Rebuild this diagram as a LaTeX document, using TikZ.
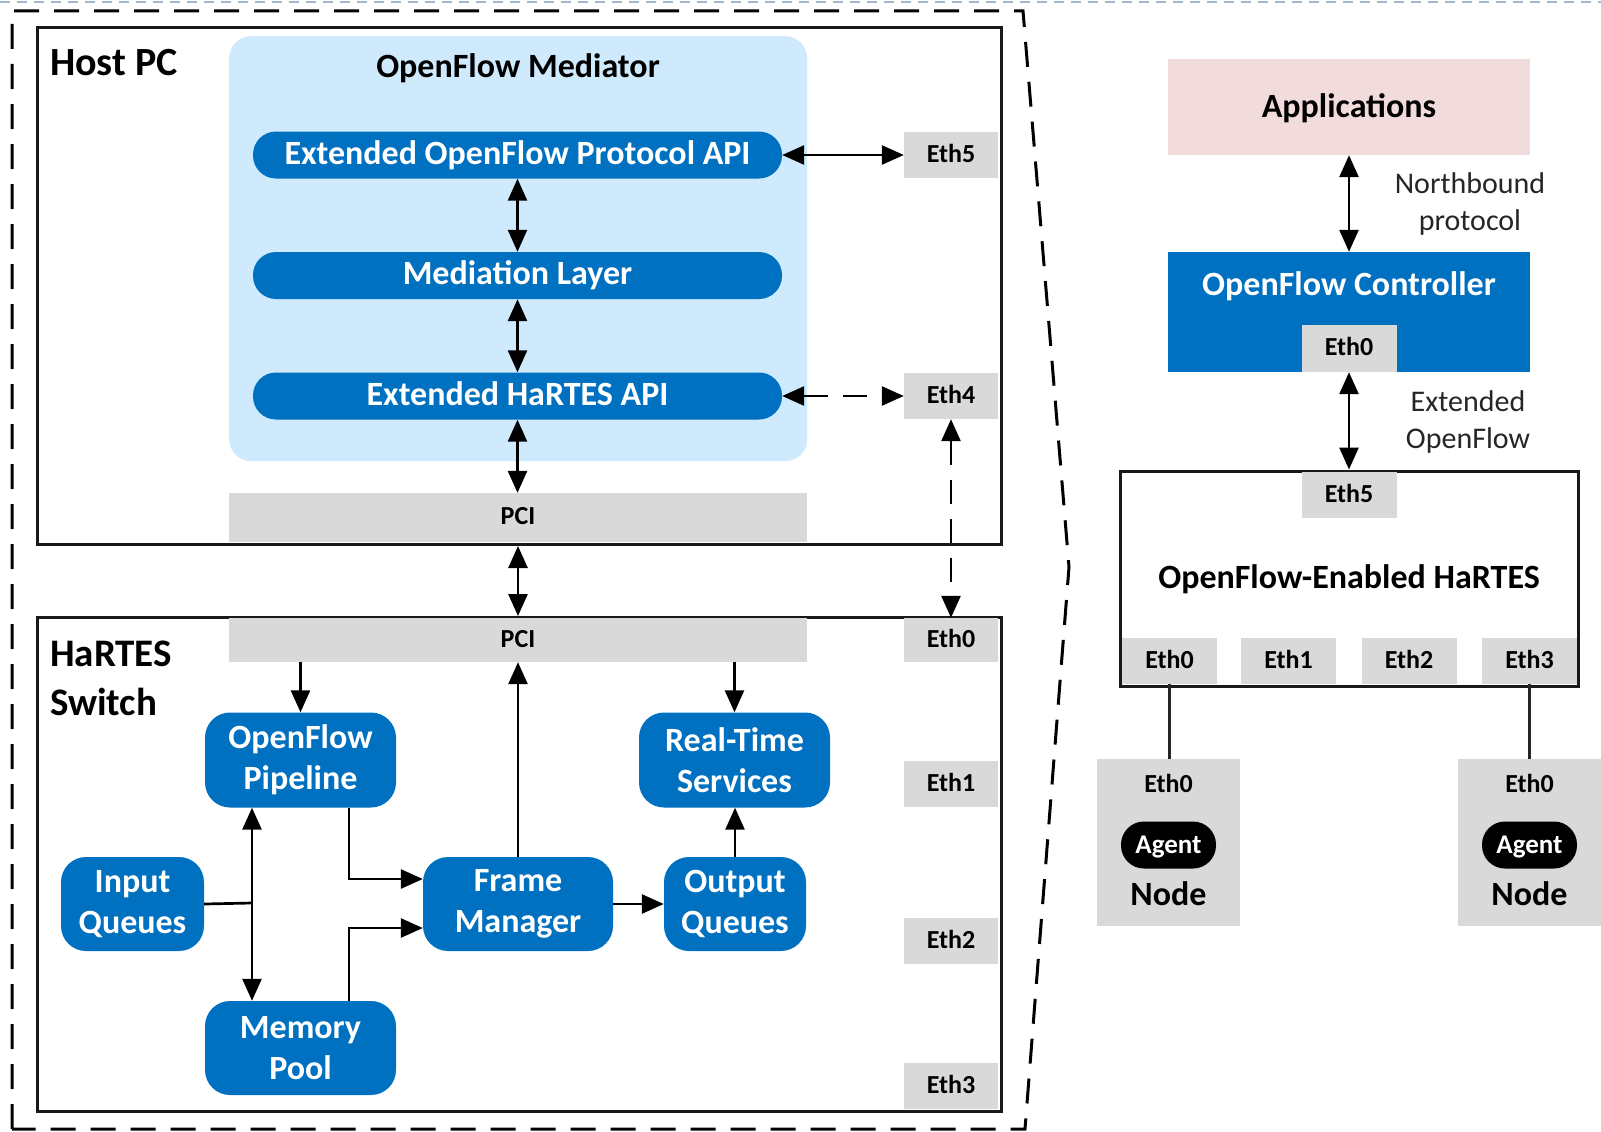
\documentclass[tikz,border=0pt]{standalone}
\usepackage{fontspec}
\setmainfont{Carlito}
\usetikzlibrary{arrows.meta}

\definecolor{ofblue}{RGB}{0,112,192}
\definecolor{medblue}{RGB}{207,234,252}
\definecolor{portgrey}{RGB}{217,217,217}
\definecolor{apppink}{RGB}{242,220,219}
\definecolor{guideblue}{RGB}{160,184,210}

\tikzset{
  hostframe/.style={draw=black!90, line width=3pt, fill=white, inner sep=0pt},
  pill/.style={fill=ofblue, rounded corners=23pt, text=white,
    font=\fontsize{34}{40}\selectfont\bfseries, text height=26pt, text depth=8pt,
    minimum width=529pt, minimum height=47pt, inner sep=0pt},
  block/.style={fill=ofblue, rounded corners=25pt, text=white, align=center,
    font=\fontsize{34}{41}\selectfont\bfseries, inner sep=0pt},
  port/.style={fill=portgrey, inner sep=0pt, minimum width=94pt, minimum height=46pt,
    font=\fontsize{26}{30}\selectfont\bfseries, text height=20pt, text depth=6pt},
  heading/.style={font=\fontsize{34}{40}\selectfont\bfseries, text height=26pt, text depth=5pt, inner sep=0pt},
  agent/.style={fill=black, text=white, rounded corners=23pt, minimum width=95pt, minimum height=47pt,
    inner sep=0pt, font=\fontsize{27}{32}\selectfont\bfseries, text height=21pt, text depth=5pt},
  caption/.style={font=\fontsize{30}{37}\selectfont, align=center, text=black!85, inner sep=0pt},
  link/.style={line width=2.7pt, -{Triangle[length=22pt,width=19pt]}},
  biline/.style={line width=2.7pt, {Triangle[length=22pt,width=19pt]}-{Triangle[length=22pt,width=19pt]}},
  dashlink/.style={biline, dash pattern=on 24pt off 15pt},
  wire/.style={line width=2.7pt, draw=black!85},
}

\begin{document}
\begin{tikzpicture}[x=1pt,y=-1pt]
\useasboundingbox (0,0) rectangle (1601,1132);
\fill[white] (0,0) rectangle (1601,1132);

% thin guide line along the top edge
\draw[guideblue, line width=1.5pt, dash pattern=on 10pt off 7pt] (0,2) -- (1601,2);

% dashed enclosure of the HaRTES internals
\draw[line width=3pt, dash pattern=on 25pt off 15pt]
  (12,1129) -- (12,11) -- (1023,11) -- (1069,567) -- (1025,1129) -- cycle;

% ---------------- Host PC ----------------
\node[hostframe, anchor=north west, minimum width=964pt, minimum height=517pt] (host) at (36,26) {};
\node[anchor=base west, font=\fontsize{40}{46}\selectfont\bfseries, inner sep=0pt] (hostlabel) at (50,76) {Host PC};

\node[fill=medblue, rounded corners=22pt, anchor=north west, minimum width=578pt,
      minimum height=425pt, inner sep=0pt] (med) at (229,36) {};
\node[heading] (medtitle) at (518,67) {OpenFlow Mediator};

\node[pill] (extof) at (517.5,155) {Extended OpenFlow Protocol API};
\node[pill] (medlayer) at (517.5,275.5) {Mediation Layer};
\node[pill] (exthartes) at (517.5,396) {Extended HaRTES API};

\node[port, minimum width=578pt, minimum height=48.5pt] (hpci) at (518,517.3) {PCI};
\node[port] (heth5) at (951,155) {Eth5};
\node[port] (heth4) at (951,396) {Eth4};

\draw[biline] (extof.east) -- (heth5.west);
\draw[biline] (extof.south) -- (medlayer.north);
\draw[biline] (medlayer.south) -- (exthartes.north);
\draw[biline] (exthartes.south) -- (exthartes.south |- hpci.north);
\draw[dashlink] (exthartes.east) -- (heth4.west);

% ---------------- HaRTES Switch ----------------
\node[hostframe, anchor=north west, minimum width=964pt, minimum height=494pt] (switch) at (36,616) {};
\node[anchor=base west, font=\fontsize{39}{46}\selectfont\bfseries, inner sep=0pt] (swlabelA) at (50,666) {HaRTES};
\node[anchor=base west, font=\fontsize{39}{46}\selectfont\bfseries, inner sep=0pt] (swlabelB) at (50,715) {Switch};

\node[port, minimum width=578pt, minimum height=44pt] (spci) at (518,640) {PCI};
\node[port, minimum height=44pt] (seth0) at (951,640) {Eth0};
\node[port] (seth1) at (951,784) {Eth1};
\node[port] (seth2) at (951,941) {Eth2};
\node[port] (seth3) at (951,1086) {Eth3};

\node[block, minimum width=191pt, minimum height=95pt] (pipe) at (300.5,760) {OpenFlow\\Pipeline};
\node[block, minimum width=191pt, minimum height=95pt] (rts) at (734.5,760) {Real-Time\\Services};
\node[block, minimum width=143pt, minimum height=94pt] (inq) at (132.5,904) {Input\\Queues};
\node[block, minimum width=190pt, minimum height=94pt] (fm) at (518,904) {Frame\\Manager};
\node[block, minimum width=142pt, minimum height=94pt] (outq) at (735,904) {Output\\Queues};
\node[block, minimum width=191pt, minimum height=94pt] (mem) at (300.5,1048) {Memory\\Pool};

\draw[biline] (host.south -| hpci.south) -- (switch.north -| hpci.south);
\draw[dashlink] (heth4.south) -- (seth0.north);

\draw[link] (spci.south -| pipe.north) -- (pipe.north);
\draw[link] (fm.north) -- (fm.north |- spci.south);
\draw[link] (spci.south -| rts.north) -- (rts.north);
\draw[link] (outq.north) -- (outq.north |- rts.south);
\draw[link] (fm.east) -- (outq.west);

\coordinate (split) at (252,903);
\draw[line width=2.7pt] (inq.east) -- (split);
\draw[biline] (pipe.south -| split) -- (mem.north -| split);
\draw[link] ([xshift=48.5pt]pipe.south) |- ([yshift=25pt]fm.west);
\draw[link] ([xshift=48.5pt]mem.north) |- ([yshift=-24pt]fm.west);

% ---------------- controller side ----------------
\node[fill=apppink, minimum width=362pt, minimum height=96pt, inner sep=0pt] (apps) at (1349,107) {};
\node[heading] (appstitle) at (1349,107) {Applications};

\node[fill=ofblue, minimum width=362pt, minimum height=120pt, inner sep=0pt] (ctrl) at (1349,312) {};
\node[heading, text=white] (ctrltitle) at (1349,285) {OpenFlow Controller};
\node[port, minimum width=95pt, minimum height=47pt] (ceth0) at (1349,348.5) {Eth0};

\draw[biline] (apps.south) -- (ctrl.north);
\node[caption] (nblabel) at (1470,204) {Northbound\\protocol};

\node[hostframe, minimum width=458pt, minimum height=215pt] (ofh) at (1349,578.5) {};
\node[port, minimum width=95pt] (oeth5) at (1349,495) {Eth5};
\node[heading] (ofhtitle) at (1349,578) {OpenFlow-Enabled HaRTES};

\draw[biline] (ceth0.south) -- (ofh.north);
\node[caption] (eolabel) at (1468,422) {Extended\\OpenFlow};

\node[port, minimum width=95pt] (oeth0) at (1169.5,661) {Eth0};
\node[port, minimum width=95pt] (oeth1) at (1288.5,661) {Eth1};
\node[port, minimum width=95pt] (oeth2) at (1409,661) {Eth2};
\node[port, minimum width=95pt] (oeth3) at (1529.5,661) {Eth3};

% end nodes with their agents
\node[fill=portgrey, minimum width=143pt, minimum height=167pt, inner sep=0pt] (nodeA) at (1168.5,842.5) {};
\node[fill=portgrey, minimum width=143pt, minimum height=167pt, inner sep=0pt] (nodeB) at (1529.5,842.5) {};

\draw[wire] (oeth0.south) -- (oeth0.south |- nodeA.north);
\draw[wire] (oeth3.south) -- (oeth3.south |- nodeB.north);

\node[port, fill=none] (naeth) at (1168.5,785) {Eth0};
\node[port, fill=none] (nbeth) at (1529.5,785) {Eth0};
\node[agent] (agentA) at (1168.5,845) {Agent};
\node[agent] (agentB) at (1529.5,845) {Agent};
\node[heading] (nodeAtitle) at (1168.5,895) {Node};
\node[heading] (nodeBtitle) at (1529.5,895) {Node};
\end{tikzpicture}
\end{document}
